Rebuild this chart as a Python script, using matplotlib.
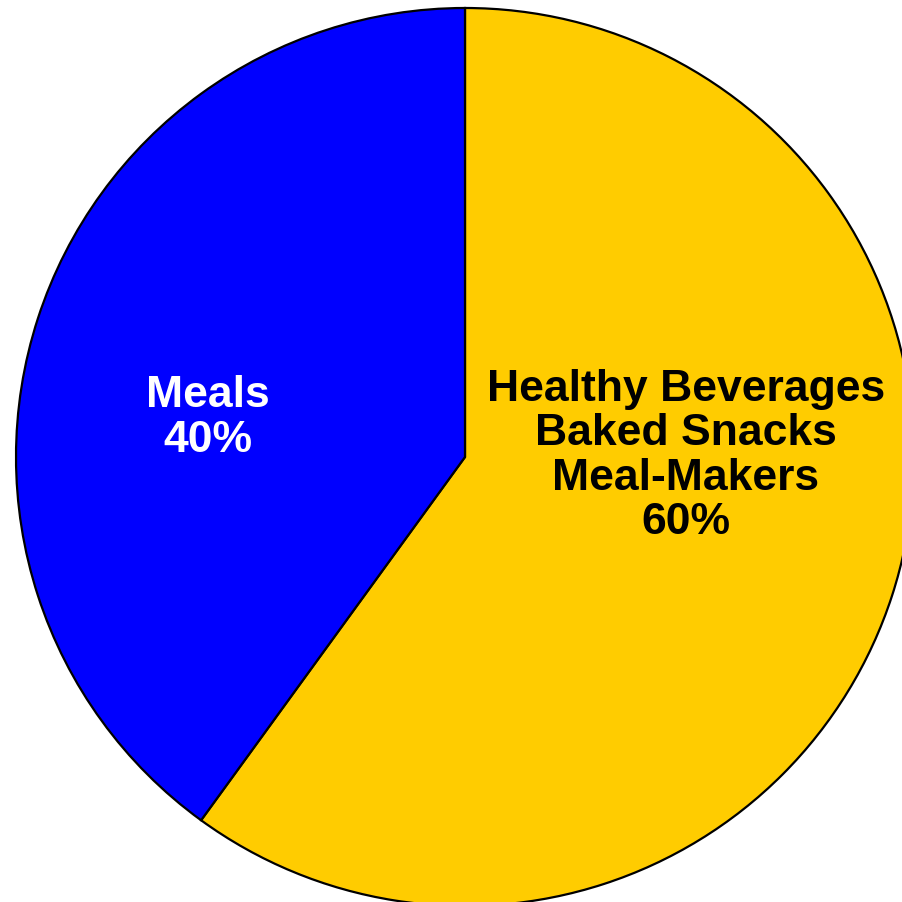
import matplotlib.pyplot as plt

labels = ["Healthy Beverages\nBaked Snacks\nMeal-Makers\n60%", "Meals\n40%"]
shares = [60, 40]
colors = ["#FFCC00", "#0000FF"]
text_colors = ["black", "white"]
label_pos = [(686, 447), (208, 485)]

plt.rcParams['font.family'] = ['Liberation Sans', 'DejaVu Sans']

fig = plt.figure(figsize=(9.03, 9.03), dpi=100)
ax = fig.add_axes([0, 0, 1, 1])

ax.pie(shares, colors=colors, startangle=90, counterclock=False,
       center=(465, 445), radius=449, frame=True,
       wedgeprops=dict(edgecolor='black', linewidth=1.6))
ax.set_xlim(0, 903)
ax.set_ylim(0, 903)
ax.set_aspect('equal')
ax.axis('off')

for lab, (x, y), tc in zip(labels, label_pos, text_colors):
    ax.text(x, y, lab, ha='center', va='center', color=tc,
            fontsize=32, fontweight='bold', linespacing=1.1)

fig.savefig('out.png', dpi=100)
